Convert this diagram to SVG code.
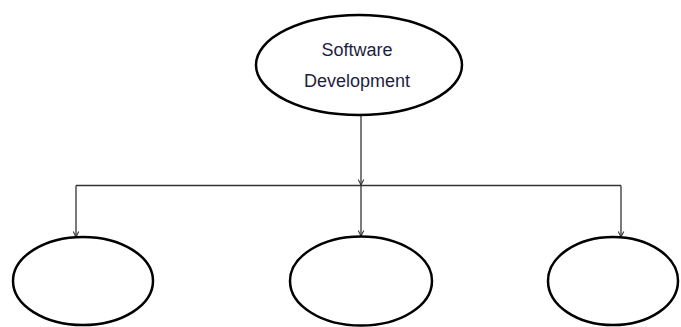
<svg xmlns="http://www.w3.org/2000/svg" width="681" height="327" viewBox="0 0 681 327">
<defs>
<style>
.node{fill:#fff;stroke:#000;stroke-width:2.5}
.conn{fill:none;stroke:#333;stroke-width:1.3}
.lbl{font-family:"Liberation Sans",Arial,sans-serif;font-size:18px;fill:#1e1e40;text-anchor:middle}
</style>
<marker id="arr" viewBox="0 0 10 10" refX="9" refY="5" markerWidth="7" markerHeight="7" orient="auto" markerUnits="userSpaceOnUse">
<path d="M1,1 L9,5 L1,9" fill="none" stroke="#333" stroke-width="1.5"/>
</marker>
</defs>
<rect width="681" height="327" fill="#fff"/>
<g id="connectors">
<path class="conn" d="M361,115 V185" marker-end="url(#arr)"/>
<path class="conn" d="M76,185.5 H621"/>
<path class="conn" d="M76,185.5 V237" marker-end="url(#arr)"/>
<path class="conn" d="M361,185.5 V236" marker-end="url(#arr)"/>
<path class="conn" d="M621,185.5 V237" marker-end="url(#arr)"/>
</g>
<g id="software-development">
<ellipse class="node" cx="359" cy="65" rx="103" ry="50"/>
<text class="lbl" x="357" y="56">Software</text>
<text class="lbl" x="357" y="86.5">Development</text>
</g>
<g id="child-left">
<ellipse class="node" cx="83" cy="281" rx="70" ry="44"/>
</g>
<g id="child-middle">
<ellipse class="node" cx="361" cy="281" rx="71" ry="44.5"/>
</g>
<g id="child-right">
<ellipse class="node" cx="613" cy="281" rx="65" ry="44"/>
</g>
</svg>
